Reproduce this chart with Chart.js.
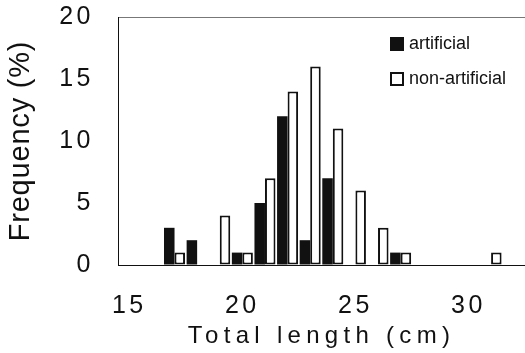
<!DOCTYPE html>
<html lang="en">
<head>
    <meta charset="UTF-8">
    <script src="https://cdn.jsdelivr.net/npm/chart.js@4"></script>
    <title>Total length frequency</title>
    <style>
        body { margin: 0; background: #fff; }
    </style>
</head>
<body>
    <canvas id="chart" width="525" height="353"></canvas>
    <script>
        // total length classes (cm)
        var lengths = [15, 16, 17, 18, 19, 20, 21, 22, 23, 24, 25, 26, 27, 28, 29, 30, 31, 32];
        var artificial = [null, null, 3, 2, null, 1, 5, 12, 2, 7, null, null, 1, null, null, null, null, null];
        var nonArtificial = [null, null, 1, null, 4, 1, 7, 14, 16, 11, 6, 3, 1, null, null, null, 1, null];
        var yTicks = [0, 5, 10, 15, 20];

        var font = 'Liberation Sans, Arial, sans-serif';
        var ink = '#111';

        // canvas letter spacing for a scale's labels / title
        function spaced(scale, titleGap, labelGap) {
            if (scale._spaced) return;
            scale._spaced = true;
            var dt = scale.drawTitle, dl = scale.drawLabels;
            scale.drawTitle = function () {
                this.ctx.save(); this.ctx.letterSpacing = titleGap + 'px';
                dt.apply(this, arguments); this.ctx.restore();
            };
            scale.drawLabels = function () {
                this.ctx.save(); this.ctx.letterSpacing = labelGap + 'px';
                dl.apply(this, arguments); this.ctx.restore();
            };
        }

        var boxLegend = {
            id: 'boxLegend',
            afterDraw(chart) {
                var ctx = chart.ctx;
                ctx.save();
                ctx.font = '18px ' + font;
                ctx.textBaseline = 'middle';
                ctx.fillStyle = ink;
                chart.data.datasets.forEach(function (ds, i) {
                    var y = 44 + i * 35;
                    if (ds.borderWidth) {
                        ctx.fillStyle = '#fff';
                        ctx.fillRect(390, y - 7, 14, 14);
                        ctx.strokeStyle = ink;
                        ctx.lineWidth = 2;
                        ctx.strokeRect(391, y - 6, 12, 12);
                    } else {
                        ctx.fillStyle = ds.backgroundColor;
                        ctx.fillRect(390, y - 7, 14, 14);
                    }
                    ctx.fillStyle = ink;
                    ctx.fillText(ds.label, 409, y);
                });
                ctx.restore();
            }
        };

        new Chart(document.getElementById('chart'), {
            type: 'bar',
            data: {
                labels: lengths,
                datasets: [{
                    label: 'artificial',
                    data: artificial,
                    backgroundColor: ink,
                    borderWidth: 0
                }, {
                    label: 'non-artificial',
                    data: nonArtificial,
                    backgroundColor: '#fff',
                    borderColor: ink,
                    borderWidth: 2,
                    borderSkipped: false
                }]
            },
            options: {
                responsive: false,
                animation: false,
                devicePixelRatio: 1,
                categoryPercentage: 0.93,
                barPercentage: 1,
                layout: { padding: { top: 17, right: 0, left: 0, bottom: 0 } },
                plugins: { legend: { display: false }, tooltip: { enabled: false } },
                scales: {
                    x: {
                        grid: { display: false, drawTicks: false },
                        border: { color: ink, width: 1 },
                        ticks: {
                            autoSkip: false, maxRotation: 0, padding: 26,
                            color: ink, font: { family: font, size: 25 },
                            callback: function (v) {
                                var l = this.getLabelForValue(v);
                                return l % 5 === 0 ? l : '';
                            }
                        },
                        title: {
                            display: true, text: 'Total length (cm)', color: ink,
                            font: { family: font, size: 24 }, padding: { top: 0, bottom: 2 }
                        },
                        afterFit: function (s) {
                            s.height = 88; s.paddingLeft = 0; s.paddingRight = 0;
                            spaced(s, 5.3, 3.5);
                        }
                    },
                    y: {
                        min: 0, max: 20,
                        afterBuildTicks: function (s) { s.ticks = yTicks.map(function (v) { return { value: v }; }); },
                        grid: {
                            drawTicks: false,
                            color: function (c) { return c.tick && c.tick.value === 20 ? '#777' : 'rgba(0,0,0,0)'; }
                        },
                        border: { color: ink, width: 1 },
                        ticks: { padding: 24, color: ink, font: { family: font, size: 25 } },
                        title: {
                            display: true, text: 'Frequency (%)', color: ink,
                            font: { family: font, size: 29 }, padding: { top: 4, bottom: 0 }
                        },
                        afterFit: function (s) {
                            s.width = 118; s.paddingTop = 0; s.paddingBottom = 0;
                            spaced(s, 0.8, 3.5);
                        }
                    }
                }
            },
            plugins: [boxLegend]
        });
    </script>
</body>
</html>
